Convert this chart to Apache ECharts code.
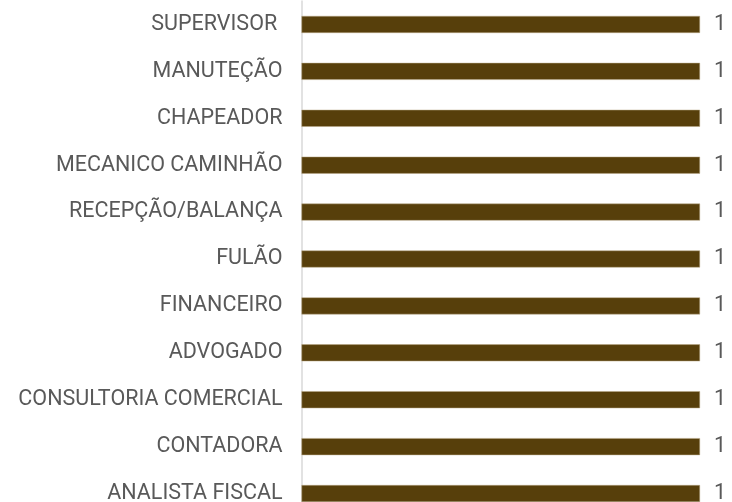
<!DOCTYPE html>
<html><head><meta charset="utf-8">
<script src="https://cdn.jsdelivr.net/npm/echarts@6/dist/echarts.min.js"></script>
<style>html,body{margin:0;padding:0;background:#fff;overflow:hidden;width:732px;height:502px}#c{width:732px;height:520px}</style>
</head><body><div id="c"></div>
<script>
const categories = ['SUPERVISOR ', 'MANUTEÇÃO', 'CHAPEADOR', 'MECANICO CAMINHÃO', 'RECEPÇÃO/BALANÇA', 'FULÃO', 'FINANCEIRO', 'ADVOGADO', 'CONSULTORIA COMERCIAL', 'CONTADORA', 'ANALISTA FISCAL'];
const values = [1, 1, 1, 1, 1, 1, 1, 1, 1, 1, 1];

const chart = echarts.init(document.getElementById('c'), null, {renderer: 'canvas'});
chart.setOption({
  animation: false,
  grid: {left: 301.5, right: 32, top: 1, height: 516, containLabel: false},
  xAxis: {type: 'value', min: 0, max: 1, show: false},
  yAxis: {
    type: 'category', data: categories, inverse: true,
    axisLine: {show: true, lineStyle: {color: '#d9d9d9', width: 1.5}},
    axisTick: {show: false},
    axisLabel: {color: '#595959', fontFamily: 'Roboto', fontSize: 21.5, margin: 19}
  },
  series: [{
    type: 'bar', data: values, barWidth: 17,
    itemStyle: {color: '#573f0b', borderColor: '#b9a987', borderWidth: 0.5},
    label: {show: true, position: 'right', distance: 14, color: '#595959', fontFamily: 'Roboto', fontSize: 21.5}
  }]
});
</script></body></html>
